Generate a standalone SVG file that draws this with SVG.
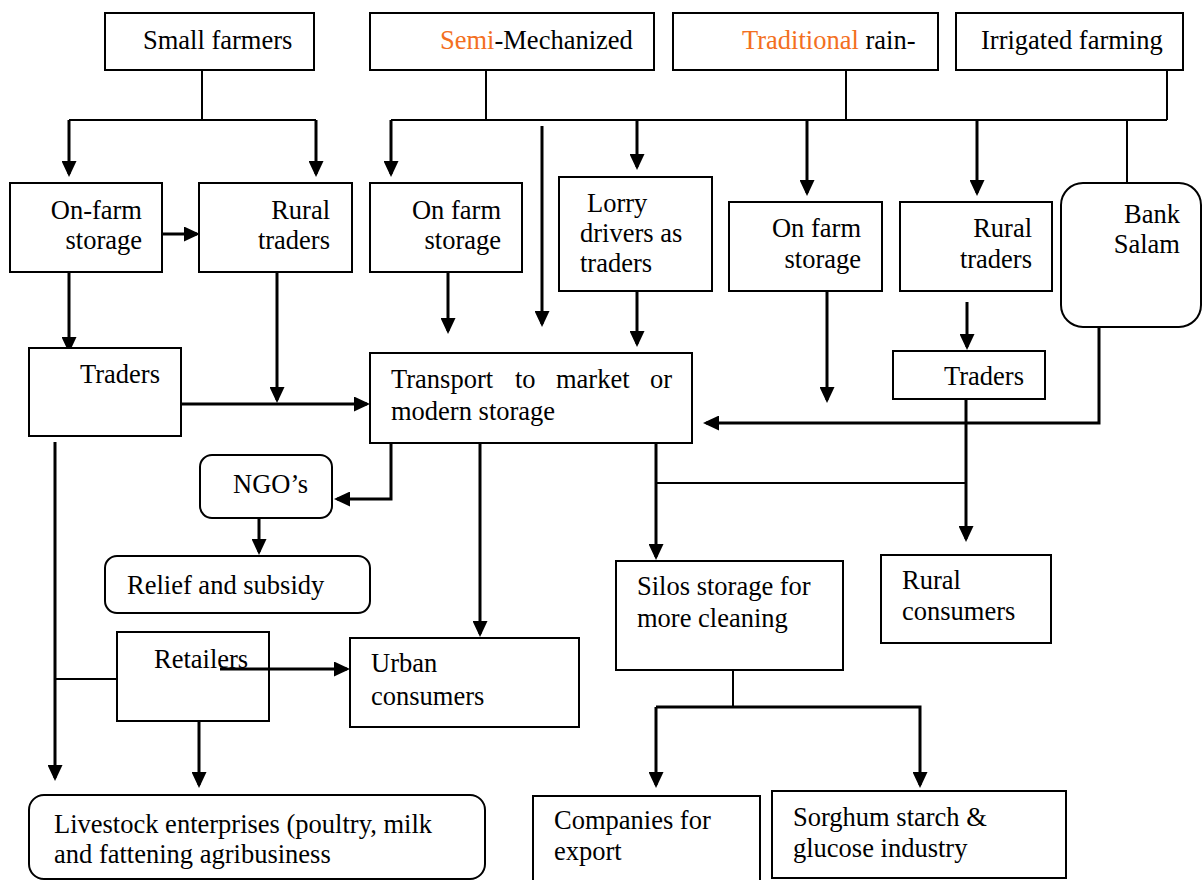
<svg xmlns="http://www.w3.org/2000/svg" width="1202" height="880" viewBox="0 0 1202 880">
  <style>
    .box { fill: #fff; stroke: #000; stroke-width: 2; }
    .open { fill: none; }
    .t { font-family: 'Liberation Serif', 'Times New Roman', 'DejaVu Serif', serif; font-size: 26.5px; fill: #000; }
    .end { text-anchor: end; }
    .hi { fill: #f36f21; }
    .line { fill: none; stroke: #000; stroke-width: 2; }
    .arrow { fill: none; stroke: #000; stroke-width: 3; marker-end: url(#head); }
  </style>
  <defs>
    <marker id="head" markerUnits="userSpaceOnUse" viewBox="0 0 16 15" markerWidth="16" markerHeight="15" refX="13" refY="7.5" orient="auto">
      <path d="M0,0 L16,7.5 L0,15 Z" fill="#000"/>
    </marker>
  </defs>
  <rect width="1202" height="880" fill="#fff"/>

  <!-- connectors (drawn first; boxes sit on top of line ends) -->
  <g id="connectors">
    <path class="line" d="M202,70 V120 M69,120 H316"/>
    <path class="line" d="M486,70 V120 M391,120 H1167 M846,70 V120 M1167,70 V120 M1127,120 V183"/>
    <path class="arrow" d="M69,120 V174"/>
    <path class="arrow" d="M316,120 V174"/>
    <path class="arrow" d="M391,120 V174"/>
    <path class="arrow" d="M542,126 V324"/>
    <path class="arrow" d="M637,120 V167"/>
    <path class="arrow" d="M807,120 V193"/>
    <path class="arrow" d="M977,120 V193"/>
    <path class="arrow" d="M162,234 H197"/>
    <path class="arrow" d="M69,272 V350"/>
    <path class="arrow" d="M277,272 V400"/>
    <path class="arrow" d="M181,404 H367"/>
    <path class="arrow" d="M448,272 V331"/>
    <path class="arrow" d="M637,291 V344"/>
    <path class="arrow" d="M827,291 V400"/>
    <path class="arrow" d="M967,302 V347"/>
    <path class="arrow" d="M1099,327 V423 H706"/>
    <path class="line" d="M656,483 H966"/>
    <path class="arrow" d="M966,399 V539"/>
    <path class="arrow" d="M656,443 V557"/>
    <path class="arrow" d="M480,443 V634"/>
    <path class="arrow" d="M391,443 V499 H337"/>
    <path class="arrow" d="M259,518 V552"/>
    <path class="arrow" d="M55,442 V778"/>
    <path class="line" d="M55,679 H117"/>
    <path class="arrow" d="M220,669 H347"/>
    <path class="arrow" d="M199,721 V785"/>
    <path class="line" d="M733,670 V707"/>
    <path class="arrow" d="M656,707 H920 V785"/>
    <path class="arrow" d="M656,707 V785"/>
  </g>

  <!-- sources -->
  <g id="small-farmers">
    <rect class="box" x="105" y="13" width="209" height="57"/>
    <text class="t" x="143" y="49">Small farmers</text>
  </g>
  <g id="semi-mechanized">
    <rect class="box" x="370" y="13" width="284" height="57"/>
    <text class="t" x="440" y="49"><tspan class="hi">Semi</tspan>-Mechanized</text>
  </g>
  <g id="traditional">
    <rect class="box" x="673" y="13" width="265" height="57"/>
    <text class="t" x="742" y="49"><tspan class="hi">Traditional</tspan> rain-</text>
  </g>
  <g id="irrigated">
    <rect class="box" x="956" y="13" width="227" height="57"/>
    <text class="t" x="981" y="49">Irrigated farming</text>
  </g>

  <!-- second tier -->
  <g id="on-farm-storage-1">
    <rect class="box" x="10" y="183" width="152" height="89"/>
    <text class="t end" x="142" y="219">On-farm</text>
    <text class="t end" x="142" y="249">storage</text>
  </g>
  <g id="rural-traders-1">
    <rect class="box" x="199" y="183" width="153" height="89"/>
    <text class="t end" x="330" y="219">Rural</text>
    <text class="t end" x="330" y="249">traders</text>
  </g>
  <g id="on-farm-storage-2">
    <rect class="box" x="370" y="183" width="152" height="89"/>
    <text class="t end" x="501" y="219">On farm</text>
    <text class="t end" x="501" y="249">storage</text>
  </g>
  <g id="lorry-drivers">
    <rect class="box" x="559" y="177" width="153" height="114"/>
    <text class="t" x="587" y="212">Lorry</text>
    <text class="t" x="580" y="242">drivers as</text>
    <text class="t" x="580" y="272">traders</text>
  </g>
  <g id="on-farm-storage-3">
    <rect class="box" x="729" y="202" width="153" height="89"/>
    <text class="t end" x="861" y="237">On farm</text>
    <text class="t end" x="861" y="268">storage</text>
  </g>
  <g id="rural-traders-2">
    <rect class="box" x="900" y="202" width="152" height="89"/>
    <text class="t end" x="1032" y="237">Rural</text>
    <text class="t end" x="1032" y="268">traders</text>
  </g>
  <g id="bank-salam">
    <rect class="box" x="1061" y="183" width="140" height="144" rx="22"/>
    <text class="t end" x="1180" y="223">Bank</text>
    <text class="t end" x="1180" y="253">Salam</text>
  </g>

  <!-- traders and transport -->
  <g id="traders-1">
    <rect class="box" x="29" y="348" width="152" height="88"/>
    <text class="t end" x="160" y="383">Traders</text>
  </g>
  <g id="traders-2">
    <rect class="box" x="893" y="351" width="152" height="48"/>
    <text class="t end" x="1024" y="385">Traders</text>
  </g>
  <g id="transport">
    <rect class="box" x="370" y="353" width="322" height="90"/>
    <text class="t" y="388"><tspan x="391">Transport</tspan><tspan x="515">to</tspan><tspan x="556">market</tspan><tspan x="650">or</tspan></text>
    <text class="t" x="391" y="420">modern storage</text>
  </g>

  <!-- outlets -->
  <g id="ngos">
    <rect class="box" x="200" y="455" width="132" height="63" rx="12"/>
    <text class="t" x="233" y="493">NGO’s</text>
  </g>
  <g id="relief">
    <rect class="box" x="105" y="556" width="265" height="57" rx="12"/>
    <text class="t" x="127" y="594">Relief and subsidy</text>
  </g>
  <g id="retailers">
    <rect class="box open" x="117" y="632" width="152" height="89"/>
    <text class="t" x="154" y="668">Retailers</text>
  </g>
  <g id="urban-consumers">
    <rect class="box" x="350" y="638" width="229" height="89"/>
    <text class="t" x="371" y="672">Urban</text>
    <text class="t" x="371" y="705">consumers</text>
  </g>
  <g id="silos">
    <rect class="box" x="616" y="561" width="227" height="109"/>
    <text class="t" x="637" y="595">Silos storage for</text>
    <text class="t" x="637" y="627">more cleaning</text>
  </g>
  <g id="rural-consumers">
    <rect class="box" x="881" y="555" width="170" height="88"/>
    <text class="t" x="902" y="589">Rural</text>
    <text class="t" x="902" y="620">consumers</text>
  </g>
  <g id="livestock">
    <rect class="box" x="29" y="795" width="456" height="84" rx="15"/>
    <text class="t" x="54" y="833">Livestock enterprises (poultry, milk</text>
    <text class="t" x="54" y="863">and fattening agribusiness</text>
  </g>
  <g id="companies-export">
    <rect class="box" x="533" y="796" width="227" height="86"/>
    <text class="t" x="554" y="829">Companies for</text>
    <text class="t" x="554" y="860">export</text>
  </g>
  <g id="starch-glucose">
    <rect class="box" x="772" y="791" width="294" height="87"/>
    <text class="t" x="793" y="826">Sorghum starch &amp;</text>
    <text class="t" x="793" y="857">glucose industry</text>
  </g>
</svg>
